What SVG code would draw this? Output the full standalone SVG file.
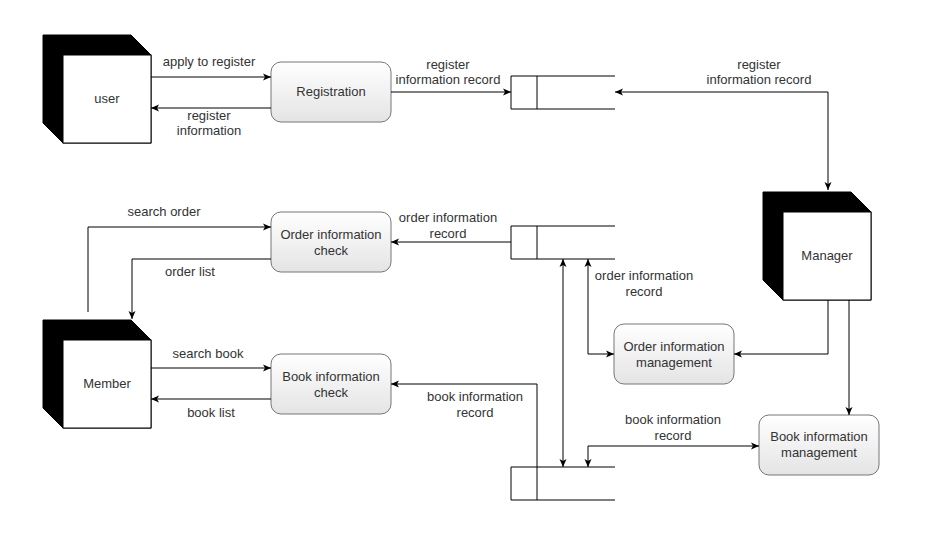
<svg xmlns="http://www.w3.org/2000/svg" width="943" height="550" viewBox="0 0 943 550">
<defs>
<linearGradient id="pg" x1="0" y1="0" x2="0" y2="1">
<stop offset="0" stop-color="#ffffff"/>
<stop offset="1" stop-color="#e4e4e4"/>
</linearGradient>
<marker id="arr" markerUnits="userSpaceOnUse" markerWidth="9" markerHeight="9" viewBox="0 0 9 9" refX="8" refY="4.5" orient="auto-start-reverse">
<path d="M0,1 L8,4.5 L0,8 L2,4.5 Z" fill="#000"/>
</marker>
</defs>
<style>
text{font-family:"Liberation Sans",Arial,sans-serif;font-size:13px;fill:#333;text-anchor:middle}
.proc{fill:url(#pg);stroke:#777;stroke-width:1}
.blk{fill:#000;stroke:#000}
.front{fill:#fff;stroke:#000;stroke-width:1}
.ds{fill:none;stroke:#000;stroke-width:1}
.c{fill:none;stroke:#000;stroke-width:1}
.a{marker-end:url(#arr)}
.b{marker-start:url(#arr);marker-end:url(#arr)}
</style>
<rect width="943" height="550" fill="#fff"/>

<g id="user">
<polygon class="blk" points="43,35 131,35 151,55 151,143 63,143 43,123"/>
<rect class="front" x="63" y="55" width="88" height="88"/>
<text x="107" y="103">user</text>
</g>

<g id="member">
<polygon class="blk" points="43,320 131,320 151,340 151,428 63,428 43,408"/>
<rect class="front" x="63" y="340" width="88" height="88"/>
<text x="107" y="388">Member</text>
</g>

<g id="manager">
<polygon class="blk" points="763,192 851,192 871,212 871,300 783,300 763,280"/>
<rect class="front" x="783" y="212" width="88" height="88"/>
<text x="827" y="260">Manager</text>
</g>

<g id="registration">
<rect class="proc" x="271" y="62" width="120" height="60" rx="10"/>
<text x="331" y="96">Registration</text>
</g>

<g id="order-check">
<rect class="proc" x="271" y="212" width="120" height="60" rx="10"/>
<text x="331" y="239">Order information</text>
<text x="331" y="255">check</text>
</g>

<g id="book-check">
<rect class="proc" x="271" y="354" width="120" height="60" rx="10"/>
<text x="331" y="381">Book information</text>
<text x="331" y="397">check</text>
</g>

<g id="order-mgmt">
<rect class="proc" x="614" y="324" width="120" height="60" rx="10"/>
<text x="674" y="351">Order information</text>
<text x="674" y="367">management</text>
</g>

<g id="book-mgmt">
<rect class="proc" x="759" y="415" width="120" height="60" rx="10"/>
<text x="819" y="441">Book information</text>
<text x="819" y="457">management</text>
</g>

<g id="store-register">
<path class="ds" d="M615,76 H511 V109 H615 M537,76 V109"/>
</g>
<g id="store-order">
<path class="ds" d="M615,226 H511 V259 H615 M537,226 V259"/>
</g>
<g id="store-book">
<path class="ds" d="M615,467 H511 V500 H615 M537,467 V500"/>
</g>

<g id="connectors">
<path class="c a" d="M151,77 H271"/>
<path class="c a" d="M271,108 H151"/>
<path class="c a" d="M391,92 H511"/>
<path class="c b" d="M615,92 H828 V190"/>
<path class="c a" d="M511,242 H391"/>
<path class="c a" d="M271,259 H132 V319"/>
<path class="c a" d="M88,312 V227 H271"/>
<path class="c a" d="M151,368 H271"/>
<path class="c a" d="M271,399 H151"/>
<path class="c a" d="M537,467 V384 H391"/>
<path class="c b" d="M563,259 V467"/>
<path class="c b" d="M588,259 V354 H614"/>
<path class="c a" d="M828,300 V354 H734"/>
<path class="c a" d="M849,300 V415"/>
<path class="c b" d="M588,467 V446 H759"/>
</g>

<g id="labels">
<text x="209" y="66">apply to register</text>
<text x="209" y="120">register</text>
<text x="209" y="135">information</text>
<text x="448" y="69">register</text>
<text x="448" y="84">information record</text>
<text x="759" y="69">register</text>
<text x="759" y="84">information record</text>
<text x="164" y="216">search order</text>
<text x="190" y="276">order list</text>
<text x="448" y="222">order information</text>
<text x="448" y="238">record</text>
<text x="644" y="280">order information</text>
<text x="644" y="296">record</text>
<text x="208" y="358">search book</text>
<text x="211" y="417">book list</text>
<text x="475" y="401">book information</text>
<text x="475" y="417">record</text>
<text x="673" y="424">book information</text>
<text x="673" y="440">record</text>
</g>
</svg>
